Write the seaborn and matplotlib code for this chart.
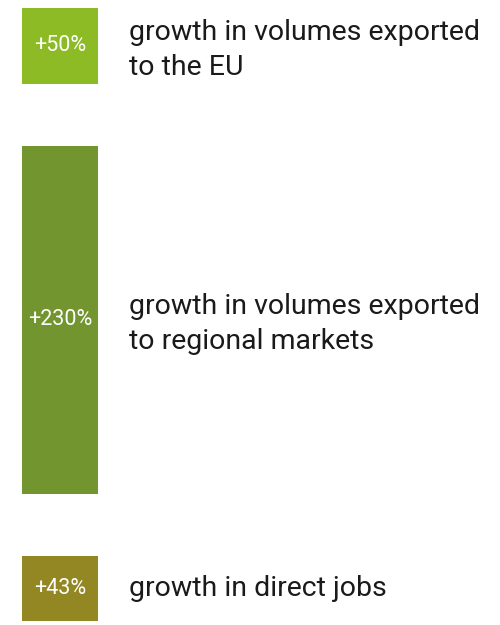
import matplotlib
matplotlib.use("Agg")
import matplotlib.pyplot as plt
import matplotlib.transforms as mtransforms
import seaborn as sns
import pandas as pd

# growth figures, top to bottom
values = [50, 230, 43]
labels = ["+50%", "+230%", "+43%"]
captions = ["growth in volumes exported\nto the EU",
            "growth in volumes exported\nto regional markets",
            "growth in direct jobs"]
colors = ["#8DBB25", "#72952F", "#938724"]

sns.set_theme(style="white")
plt.rcParams['font.family'] = ['Roboto', 'DejaVu Sans']

fig = plt.figure(figsize=(5, 6.25), dpi=100)
gs = fig.add_gridspec(len(values), 1, height_ratios=values,
                      left=22 / 500, right=98 / 500,
                      top=1 - 8 / 625, bottom=1 - 621 / 625, hspace=0.38)

for i, (val, lab, cap, col) in enumerate(zip(values, labels, captions, colors)):
    ax = fig.add_subplot(gs[i])
    df = pd.DataFrame({'k': [lab], 'v': [val]})
    sns.barplot(data=df, x='k', y='v', color=col, width=1.0,
                saturation=1, ax=ax, edgecolor='none')
    ax.set_xlim(-0.5, 0.5)
    ax.set_ylim(0, val)
    ax.axis('off')
    # value inside the block
    ax.text(0, val / 2, lab, ha='center', va='center', color='white',
            fontsize=15.5)
    # caption to the right (two-line captions sit a little lower)
    dy = -4 if '\n' in cap else 0
    tr = mtransforms.offset_copy(ax.transAxes, fig=fig, y=dy, units='dots')
    ax.text(107 / 76, 0.5, cap, transform=tr, ha='left',
            va='center', fontsize=20.5, color='#1a1a1a', linespacing=1.36)

fig.savefig("out.png", dpi=100)
